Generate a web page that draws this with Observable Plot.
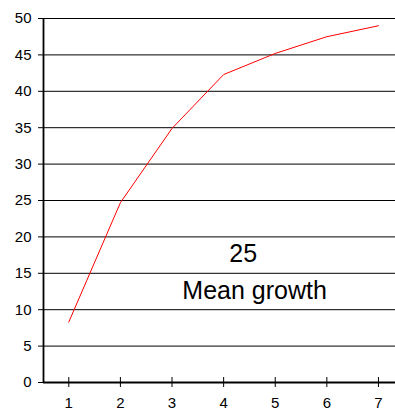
<!DOCTYPE html>
<html>
<head>
<meta charset="utf-8">
<script src="https://cdn.jsdelivr.net/npm/d3@7"></script>
<script src="https://cdn.jsdelivr.net/npm/@observablehq/plot@0.6"></script>
<style>
  html, body { margin: 0; padding: 0; background: #fff; }
  #chart svg { display: block; }
</style>
</head>
<body>
<div id="chart"></div>
<script>
const periods = [1, 2, 3, 4, 5, 6, 7];
const growth = [8.3, 24.7, 34.9, 42.3, 45.2, 47.5, 49.0];
const yTicks = [0, 5, 10, 15, 20, 25, 30, 35, 40, 45, 50];
const labelTexts = ["25", "Mean growth"];
const labelX = [4.38, 4.6];
const labelY = [17.6, 12.6];

const data = periods.map((p, i) => ({period: p, value: growth[i]}));
const labels = labelTexts.map((t, i) => ({text: t, x: labelX[i], y: labelY[i]}));

const chart = Plot.plot({
  width: 395,
  height: 412,
  marginLeft: 43,
  marginRight: 0,
  marginTop: 18,
  marginBottom: 30,
  style: {fontFamily: "'Liberation Sans', Arial, sans-serif", fontSize: "15px", color: "#000", background: "#fff"},
  x: {domain: [0.51, 7.33]},
  y: {domain: [0, 50]},
  marks: [
    Plot.ruleY(yTicks, {stroke: "#000", strokeWidth: 1}),
    Plot.axisY({ticks: yTicks, tickSize: 5, tickPadding: 7, label: null, fontSize: 15, stroke: "#000", color: "#000"}),
    Plot.axisX({ticks: periods, tickSize: 10, dy: -5, text: null, label: null, stroke: "#000"}),
    Plot.axisX({ticks: periods, tickSize: 5, tickPadding: 10, tickFormat: d => String(d), label: null, fontSize: 15, strokeOpacity: 0}),
    Plot.ruleX([0.51], {stroke: "#000", strokeWidth: 1.8}),
    Plot.ruleY([0], {stroke: "#000", strokeWidth: 1.8}),
    Plot.line(data, {x: "period", y: "value", stroke: "#ff0000", strokeWidth: 1}),
    Plot.text(labels, {x: "x", y: "y", text: "text", fontSize: 25, fill: "#000", textAnchor: "middle", lineAnchor: "middle"})
  ]
});
document.getElementById("chart").append(chart);
</script>
</body>
</html>
